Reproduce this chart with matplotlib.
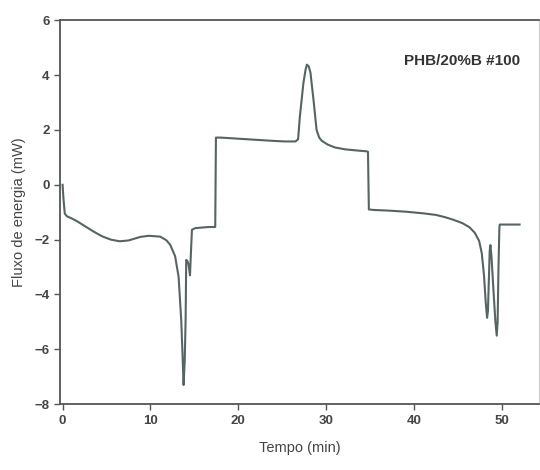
import matplotlib
matplotlib.use("Agg")
import matplotlib.pyplot as plt

# Time (min) and heat flow (mW)
tempo = [0.0, 0.1, 0.25, 0.5, 1.0, 1.6, 2.5, 3.5, 4.5, 5.5, 6.5, 7.5, 8.85, 9.8,
         11.1, 11.8, 12.25, 12.8, 13.2, 13.5, 13.65, 13.77, 13.9, 14.0,
         14.07, 14.2, 14.33, 14.5, 14.6, 14.72, 15.1, 16.6, 17.3,
         17.37, 17.45, 18.0, 20.0, 22.0, 24.0, 25.3, 26.5, 26.8, 27.0, 27.4,
         27.65, 27.8, 28.0, 28.2, 28.55, 28.9, 29.2, 29.5, 30.2, 31.0, 32.2,
         33.5, 34.6, 34.75, 34.85, 35.5, 37.0, 39.0, 41.0, 42.5, 43.5, 44.5,
         45.5, 46.3, 46.9, 47.4, 47.7, 47.95, 48.15, 48.3, 48.4, 48.5, 48.6,
         48.68, 48.8, 49.0, 49.25, 49.4, 49.5, 49.6, 49.7, 49.75, 50.5, 52.0]
fluxo = [0.0, -0.5, -1.05, -1.15, -1.22, -1.32, -1.5, -1.7, -1.88, -2.0, -2.06,
         -2.03, -1.9, -1.86, -1.89, -2.02, -2.19, -2.6, -3.35, -4.93, -6.2,
         -7.3, -6.4, -4.9, -2.74, -2.78, -2.9, -3.3, -2.5, -1.64, -1.58,
         -1.54, -1.54, -1.54, 1.72, 1.72, 1.68, 1.64, 1.6, 1.58, 1.58, 1.66,
         2.49, 3.7, 4.2, 4.38, 4.32, 4.1, 3.1, 2.0, 1.72, 1.6, 1.46, 1.36,
         1.29, 1.25, 1.22, 1.2, -0.9, -0.92, -0.94, -0.98, -1.04, -1.1, -1.18,
         -1.28, -1.4, -1.55, -1.75, -2.05, -2.5, -3.3, -4.3, -4.85, -4.6,
         -3.5, -2.4, -2.2, -2.6, -3.7, -5.0, -5.5, -5.0, -3.0, -1.55, -1.45,
         -1.45, -1.45]

xticks = [0, 10, 20, 30, 40, 50]
yticks = [-8, -6, -4, -2, 0, 2, 4, 6]

plt.rcParams['font.family'] = ['Liberation Sans', 'DejaVu Sans']

fig = plt.figure(figsize=(5.4, 4.7), dpi=100)
ax = fig.add_axes([0.111, 0.140, 0.887, 0.817])

ax.plot(tempo, fluxo, color='#566464', lw=1.5, solid_joinstyle='round')

ax.set_xlim(-0.3, 54.2)
ax.set_ylim(-8, 6)
ax.set_xticks(xticks)
ax.set_yticks(yticks)
ax.tick_params(direction='out', length=4, width=1, colors='#555555',
               labelsize=9.5)
for lab in ax.get_xticklabels() + ax.get_yticklabels():
    lab.set_fontweight('bold')
    lab.set_color('#444444')

for side, sp in ax.spines.items():
    sp.set_color('#555555')
    sp.set_linewidth(1.3)
ax.spines['right'].set_color('#cccccc')
ax.spines['right'].set_linewidth(0.8)

ax.set_xlabel('Tempo (min)', fontsize=10.5, color='#444444', labelpad=10)
ax.set_ylabel('Fluxo de energia (mW)', fontsize=10.5, color='#444444', labelpad=6)

ax.text(0.96, 0.893, 'PHB/20%B #100', transform=ax.transAxes, ha='right',
        va='center', fontsize=11, fontweight='bold', color='#333333')

fig.savefig('out.png', dpi=100)
